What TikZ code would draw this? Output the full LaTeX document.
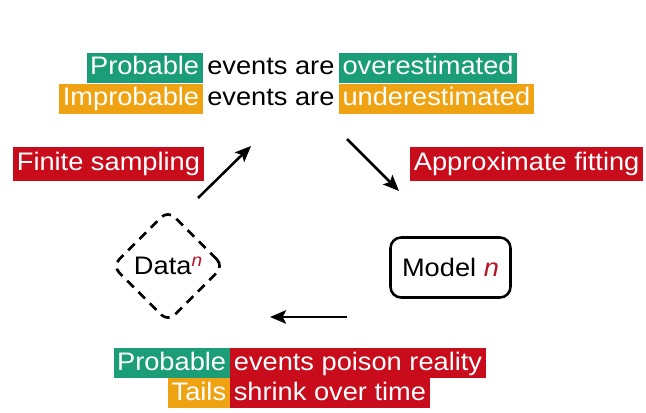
\documentclass[tikz,border=0pt]{standalone}
\usepackage{fontspec}
\setmainfont{Liberation Sans}[FakeStretch=1.075]
\usetikzlibrary{arrows.meta,shapes.geometric}
\definecolor{hgreen}{RGB}{27,158,119}
\definecolor{horange}{RGB}{240,163,18}
\definecolor{hred}{RGB}{200,12,28}
\definecolor{nred}{RGB}{180,20,40}
\begin{document}
\begin{tikzpicture}[x=0.75pt,y=-0.75pt,
  font=\fontsize{19pt}{22pt}\selectfont,
  hl/.style={fill=#1, text=white, inner xsep=2.7pt, inner ysep=0pt, text height=16.5pt, text depth=6pt},
  plain/.style={text=black, inner xsep=3pt, inner ysep=0pt, text height=16.5pt, text depth=6pt},
  arr/.style={line width=1.9pt, -{Stealth[length=12pt,width=10pt,inset=2.5pt]}},
  modelbox/.style={draw, line width=1.9pt, rounded corners=8pt, minimum width=90pt, minimum height=45pt, inner sep=0pt},
  databox/.style={diamond, draw, line width=2pt, dash pattern=on 7pt off 5pt, rounded corners=7pt, minimum width=84pt, minimum height=84pt, inner sep=0pt}]
\useasboundingbox (0,0) rectangle (646,413);
\fill[white] (0,0) rectangle (646,413);
% top lines
\node[hl=hgreen, anchor=base east] (p1) at (203,75) {Probable};
\node[plain, anchor=base west] (e1) at (p1.base east) {events are};
\node[hl=hgreen, anchor=base west] (o1) at (e1.base east) {overestimated};
\node[hl=horange, anchor=base east] (p2) at (203,106) {Improbable};
\node[plain, anchor=base west] (e2) at (p2.base east) {events are};
\node[hl=horange, anchor=base west] (o2) at (e2.base east) {underestimated};
% side labels
\node[hl=hred, inner ysep=1.2pt, anchor=base west] (fs) at (13,171) {Finite sampling};
\node[hl=hred, inner ysep=1.2pt, anchor=base west] (af) at (410,171) {Approximate fitting};
% nodes
\node[databox] (data) at (168,266) {Data\textcolor{nred}{$^{\mathit{n}}$}};
\node[modelbox] (model) at (450.5,267.5) {Model \textcolor{nred}{\textit{n}}};
% arrows
\coordinate (a1s) at (198,198);
\coordinate (a1e) at (251,146);
\coordinate (a2s) at (347,139);
\coordinate (a2e) at (399,191);
\coordinate (a3s) at (347,317);
\coordinate (a3e) at (270,317);
\draw[arr] (a1s) -- (a1e);
\draw[arr] (a2s) -- (a2e);
\draw[arr] (a3s) -- (a3e);
% bottom lines
\node[hl=hgreen, anchor=base east] (b1) at (230,370) {Probable};
\node[hl=hred, anchor=base west] (b2) at (230,370) {events poison reality};
\node[hl=horange, anchor=base east] (b3) at (230,400) {Tails};
\node[hl=hred, anchor=base west] (b4) at (230,400) {shrink over time};
\end{tikzpicture}
\end{document}
